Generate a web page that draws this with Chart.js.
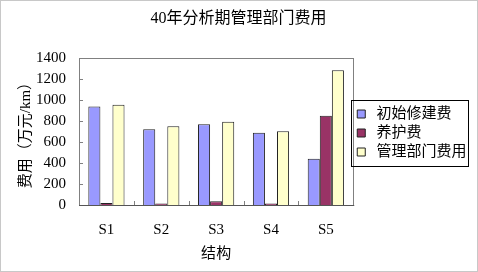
<!DOCTYPE html>
<html>
<head>
<meta charset="utf-8">
<script src="https://cdn.jsdelivr.net/npm/chart.js@4"></script>
<style>
  body { margin: 0; background: #fff; }
  #wrap { width: 476px; height: 270px; border: 1px solid #c8c8c8; }
</style>
</head>
<body>
<div id="wrap"><canvas id="costChart" width="476" height="270"></canvas></div>
<script>
const categories = ["S1", "S2", "S3", "S4", "S5"];
const buildCost = [940, 722, 769, 688, 442];
const upkeepCost = [20, 15, 35, 15, 852];
const adminCost = [955, 750, 794, 703, 1285];
const yTicks = [0, 200, 400, 600, 800, 1000, 1200, 1400];

const FONT = "'Liberation Serif', 'Noto Sans CJK SC', serif";

// plot frame, inner tick marks and the legend box
const framePlugin = {
  id: "frame",
  afterDraw(chart) {
    const ctx = chart.ctx;
    const a = chart.chartArea;
    const x = chart.scales.x;
    const y = chart.scales.y;
    ctx.save();
    ctx.strokeStyle = "#808080";
    ctx.lineWidth = 1;
    ctx.strokeRect(Math.round(a.left) + 0.5, Math.round(a.top) + 0.5, Math.round(a.right - a.left), Math.round(a.bottom - a.top));
    ctx.beginPath();
    yTicks.forEach(v => {
      const py = Math.round(y.getPixelForValue(v)) + 0.5;
      ctx.moveTo(a.left, py);
      ctx.lineTo(a.left + 4, py);
    });
    for (let i = 0; i < categories.length - 1; i++) {
      const px = Math.round((x.getPixelForValue(i) + x.getPixelForValue(i + 1)) / 2) + 0.5;
      ctx.moveTo(px, a.bottom);
      ctx.lineTo(px, a.bottom - 4);
    }
    ctx.stroke();
    ctx.strokeStyle = "#555";
    ctx.beginPath();
    ctx.moveTo(a.left, Math.round(a.bottom) + 0.5);
    ctx.lineTo(a.right + 1, Math.round(a.bottom) + 0.5);
    ctx.stroke();

    const boxes = chart.legend && chart.legend.legendHitBoxes;
    if (boxes && boxes.length) {
      const first = boxes[0];
      const last = boxes[boxes.length - 1];
      const right = Math.max(...boxes.map(b => b.left + b.width));
      ctx.strokeStyle = "#000";
      ctx.strokeRect(Math.round(first.left) - 5.5, Math.round(first.top) - 6.5,
        Math.round(right - first.left) + 8, Math.round(last.top + last.height - first.top) + 13);
    }
    ctx.restore();
  }
};

document.addEventListener("DOMContentLoaded", () => {
  const ctx = document.getElementById("costChart").getContext("2d");
  new Chart(ctx, {
    type: "bar",
    data: {
      labels: categories,
      datasets: [
        { label: "初始修建费", data: buildCost, backgroundColor: "#9999ff" },
        { label: "养护费", data: upkeepCost, backgroundColor: "#993366" },
        { label: "管理部门费用", data: adminCost, backgroundColor: "#ffffcc" }
      ]
    },
    options: {
      responsive: false,
      animation: false,
      layout: { padding: { left: 8, right: 9, bottom: 6 } },
      datasets: {
        bar: { borderColor: "#222", borderWidth: 1, categoryPercentage: 0.66, barPercentage: 1 }
      },
      scales: {
        x: {
          grid: { display: false, drawTicks: false },
          border: { display: false },
          ticks: { color: "#000", padding: 16, font: { family: FONT, size: 15 } },
          title: { display: true, text: "结构", color: "#000", padding: { top: -10, bottom: 2 }, font: { family: FONT, size: 15 } }
        },
        y: {
          min: 0,
          max: 1400,
          afterBuildTicks: axis => { axis.ticks = yTicks.map(v => ({ value: v })); },
          grid: { display: false, drawTicks: false },
          border: { display: false },
          ticks: {
            color: "#000",
            padding: 13,
            autoSkip: false,
            callback: v => String(v),
            font: { family: FONT, size: 15 }
          },
          title: { display: true, text: "费用（万元/km）", color: "#000", padding: { top: 8, bottom: -12 }, font: { family: FONT, size: 15 } }
        }
      },
      plugins: {
        title: {
          display: true,
          text: "40年分析期管理部门费用",
          color: "#000",
          padding: { top: 8, bottom: 30 },
          font: { family: FONT, size: 16, weight: "normal" }
        },
        legend: {
          position: "right",
          labels: {
            color: "#000",
            boxWidth: 8,
            boxHeight: 8,
            padding: 4,
            font: { family: FONT, size: 15 },
            generateLabels: chart => Chart.defaults.plugins.legend.labels.generateLabels(chart)
              .map(item => Object.assign(item, { text: " " + item.text }))
          }
        },
        tooltip: { enabled: false }
      }
    },
    plugins: [framePlugin]
  });
});
</script>
</body>
</html>
